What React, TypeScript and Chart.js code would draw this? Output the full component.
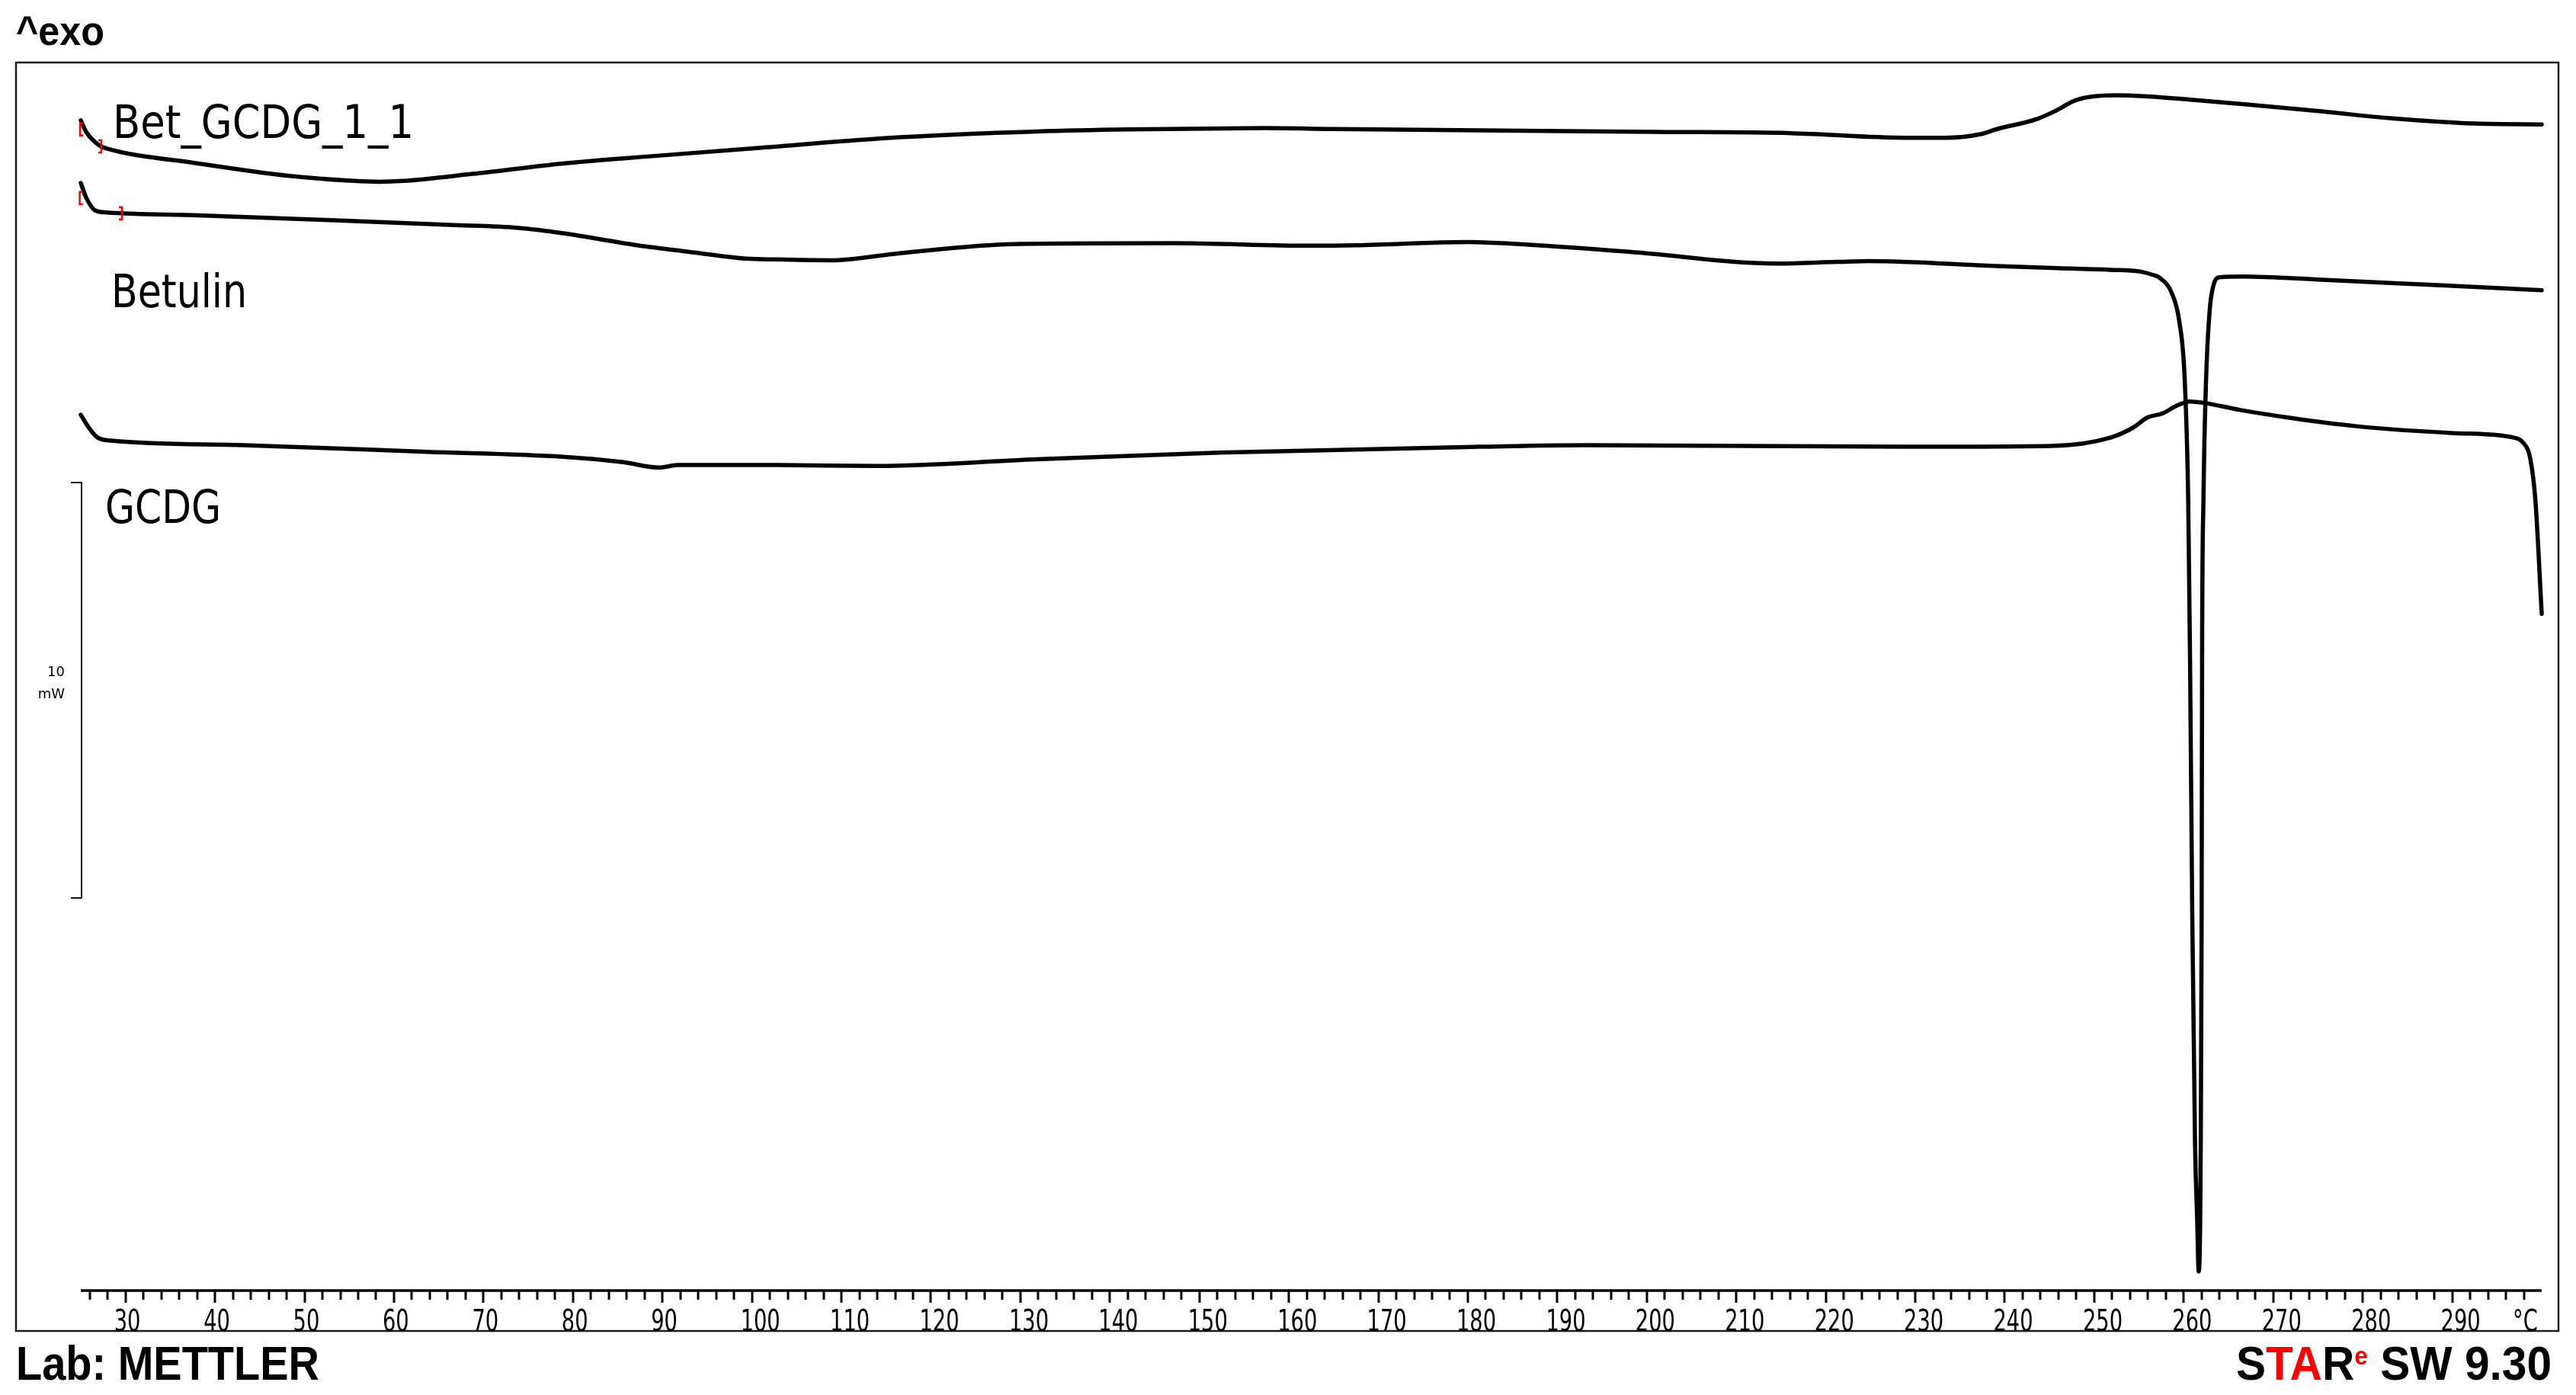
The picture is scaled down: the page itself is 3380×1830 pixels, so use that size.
import React, { useEffect, useRef } from 'react';
import { Chart, registerables } from 'chart.js';

Chart.register(...registerables);

const W = 3380;
const H = 1830;

// ---- data (temperature °C, heat flow in mW, offset curves) ----
const betGcdgT = [25.0, 25.6, 27.1, 27.9, 38.1, 48.3, 55.5, 58.3, 61.1, 68.8, 78.9, 89.1, 101.1, 116.5, 131.8, 142.0, 157.3, 164.9, 179.0, 200.8, 216.1, 228.9, 233.4, 237.4, 239.0, 243.6, 245.7, 248.0, 252.2, 255.6, 261.0, 267.0, 275.6, 283.0, 292.5, 300.0];
const betGcdgV = [28.17, 27.89, 27.56, 27.49, 27.13, 26.83, 26.71, 26.69, 26.71, 26.88, 27.13, 27.31, 27.51, 27.76, 27.90, 27.95, 27.98, 27.96, 27.93, 27.89, 27.86, 27.75, 27.75, 27.84, 27.95, 28.20, 28.40, 28.66, 28.77, 28.75, 28.66, 28.55, 28.38, 28.22, 28.09, 28.07];

const betulinT = [25.0, 25.6, 26.6, 27.9, 38.1, 53.4, 66.2, 73.9, 78.9, 86.6, 94.2, 99.3, 102.8, 108.8, 116.5, 129.2, 147.1, 162.4, 167.5, 180.0, 184.0, 198.2, 214.6, 221.2, 224.8, 239.1, 245.9, 251.8, 255.1, 256.5, 257.3, 258.7, 259.5, 260.1, 260.5, 260.7, 260.95, 261.26, 261.5, 261.67, 261.84, 261.9, 262.0, 262.05, 262.2, 262.5, 262.9, 263.3, 264.0, 266.6, 275.5, 286.5, 300.0];
const betulinV = [26.66, 26.31, 26.00, 25.95, 25.88, 25.76, 25.65, 25.58, 25.45, 25.18, 24.97, 24.84, 24.82, 24.80, 24.97, 25.19, 25.21, 25.15, 25.16, 25.24, 25.21, 25.00, 24.72, 24.76, 24.78, 24.66, 24.61, 24.57, 24.53, 24.45, 24.38, 23.99, 23.33, 21.96, 19.01, 15.28, 9.05, 3.54, 1.71, 0.46, 1.71, 3.54, 9.05, 15.28, 19.01, 21.96, 23.60, 24.18, 24.39, 24.41, 24.33, 24.22, 24.08];

const gcdgT = [25.0, 25.9, 26.9, 28.4, 43.2, 63.7, 78.9, 85.6, 89.6, 91.7, 102.8, 113.9, 131.8, 152.2, 181.2, 193.1, 228.9, 245.2, 251.8, 254.4, 255.9, 257.7, 259.2, 260.7, 262.2, 266.2, 271.8, 279.1, 290.2, 296.9, 298.0, 298.7, 299.3, 300.0];
const gcdgV = [21.08, 20.77, 20.53, 20.46, 20.35, 20.19, 20.07, 19.94, 19.81, 19.87, 19.87, 19.85, 20.01, 20.17, 20.31, 20.35, 20.31, 20.33, 20.53, 20.78, 21.01, 21.12, 21.30, 21.40, 21.37, 21.20, 21.01, 20.81, 20.64, 20.53, 20.39, 20.05, 19.01, 16.29];

// evaluation-range markers ('[' open, ']' close)
const markerT = [24.92, 27.3, 24.88, 29.6];
const markerV = [27.95, 27.54, 26.30, 25.93];
const markerKind = ['[', ']', '[', ']'];

const xLabelValues = [30, 40, 50, 60, 70, 80, 90, 100, 110, 120, 130, 140, 150, 160, 170, 180, 190, 200, 210, 220, 230, 240, 250, 260, 270, 280, 290];
const xMin = 25;
const xMax = 300;
const yMin = 0;
const yMax = 29.56;
const scaleBarLow = 9.45;
const scaleBarSpan = 10; // 10 mW

const curveLabels = ['Bet_GCDG_1_1', 'Betulin', 'GCDG'];

function fitText(ctx: CanvasRenderingContext2D, text: string, x: number, baseline: number, font: string, targetW: number, color: string) {
  ctx.save();
  ctx.font = font;
  const w = ctx.measureText(text).width;
  const s = targetW / w;
  ctx.translate(x, baseline);
  ctx.scale(s, 1);
  ctx.fillStyle = color;
  ctx.textAlign = 'left';
  ctx.textBaseline = 'alphabetic';
  ctx.fillText(text, 0, 0);
  ctx.restore();
}

function scaledText(ctx: CanvasRenderingContext2D, text: string, x: number, baseline: number, font: string, sx: number, color: string) {
  ctx.save();
  ctx.font = font;
  ctx.translate(x, baseline);
  ctx.scale(sx, 1);
  ctx.fillStyle = color;
  ctx.textAlign = 'left';
  ctx.textBaseline = 'alphabetic';
  ctx.fillText(text, 0, 0);
  ctx.restore();
}

const decor = {
  id: 'decor',
  afterDraw(chart: any) {
    const ctx: CanvasRenderingContext2D = chart.ctx;
    const xs = chart.scales.x;
    const ys = chart.scales.y;
    ctx.save();

    // frame
    ctx.strokeStyle = '#1a1a1a';
    ctx.lineWidth = 2.5;
    ctx.strokeRect(21, 82, 3357 - 21, 1746 - 82);

    // x axis line
    const axY = ys.getPixelForValue(yMin);
    ctx.strokeStyle = '#000';
    ctx.lineWidth = 3.5;
    ctx.beginPath();
    ctx.moveTo(xs.getPixelForValue(xMin), axY);
    ctx.lineTo(xs.getPixelForValue(xMax), axY);
    ctx.stroke();

    // ticks every 2 °C, longer every 10 °C
    ctx.lineWidth = 3;
    for (let t = 26; t <= 298; t += 2) {
      const px = Math.round(xs.getPixelForValue(t));
      const len = t % 10 === 0 ? 16 : 12;
      ctx.beginPath();
      ctx.moveTo(px, axY);
      ctx.lineTo(px, axY + len);
      ctx.stroke();
    }

    // tick labels
    const tickFont = '39px "DejaVu Sans"';
    const tsx = 0.7;
    for (const v of xLabelValues) {
      const px = xs.getPixelForValue(v);
      scaledText(ctx, String(v), px - 15, 1746, tickFont, tsx, '#000');
    }
    scaledText(ctx, '°C', 3297, 1746, tickFont, tsx, '#000');

    // scale bar 10 mW
    const sbTop = ys.getPixelForValue(scaleBarLow + scaleBarSpan);
    const sbBot = ys.getPixelForValue(scaleBarLow);
    ctx.strokeStyle = '#111';
    ctx.lineWidth = 2;
    ctx.beginPath();
    ctx.moveTo(93, sbTop);
    ctx.lineTo(107, sbTop);
    ctx.lineTo(107, sbBot);
    ctx.lineTo(93, sbBot);
    ctx.stroke();
    ctx.fillStyle = '#000';
    ctx.font = '18px "DejaVu Sans"';
    ctx.textAlign = 'right';
    ctx.textBaseline = 'alphabetic';
    ctx.fillText('10', 85, 887);
    ctx.fillText('mW', 85, 916);

    // curve labels
    const labFont = '60px "DejaVu Sans"';
    fitText(ctx, curveLabels[0], 148, 181, labFont, 395, '#000');
    fitText(ctx, curveLabels[1], 146, 403, labFont, 178, '#000');
    fitText(ctx, curveLabels[2], 138, 686, labFont, 152, '#000');

    // red range markers
    ctx.strokeStyle = '#ff0000';
    ctx.lineWidth = 2.5;
    for (let i = 0; i < markerT.length; i++) {
      const mx = xs.getPixelForValue(markerT[i]);
      const my = ys.getPixelForValue(markerV[i]);
      const dir = markerKind[i] === '[' ? 1 : -1;
      ctx.beginPath();
      ctx.moveTo(mx + dir * 4, my - 8);
      ctx.lineTo(mx, my - 8);
      ctx.lineTo(mx, my + 8);
      ctx.lineTo(mx + dir * 4, my + 8);
      ctx.stroke();
    }

    // header / footer texts
    fitText(ctx, '^exo', 21, 59, 'bold 53px "Liberation Sans"', 116, '#000');
    fitText(ctx, 'Lab: METTLER', 21, 1810, 'bold 63px "Liberation Sans"', 398, '#000');

    // STARe SW 9.30
    const mainFont = 'bold 63px "Liberation Sans"';
    const supFont = 'bold 34px "Liberation Sans"';
    const parts = [
      { t: 'S', c: '#000', f: mainFont, dy: 0 },
      { t: 'TA', c: '#ff0000', f: mainFont, dy: 0 },
      { t: 'R', c: '#000', f: mainFont, dy: 0 },
      { t: 'e', c: '#ff0000', f: supFont, dy: -20 },
      { t: ' SW 9.30', c: '#000', f: mainFont, dy: 0 },
    ];
    let total = 0;
    const widths: number[] = [];
    for (const p of parts) {
      ctx.font = p.f;
      const w = ctx.measureText(p.t).width;
      widths.push(w);
      total += w;
    }
    const sx = 414 / total;
    let cx = 2934;
    for (let i = 0; i < parts.length; i++) {
      const p = parts[i];
      scaledText(ctx, p.t, cx, 1810 + p.dy, p.f, sx, p.c);
      cx += widths[i] * sx;
    }

    ctx.restore();
  },
};

export default function App() {
  const ref = useRef<HTMLCanvasElement>(null);
  useEffect(() => {
    const canvas = ref.current;
    if (!canvas) return;
    const toPts = (t: number[], v: number[]) => t.map((x, i) => ({ x, y: v[i] }));
    const mk = (label: string, t: number[], v: number[]) => ({
      label,
      data: toPts(t, v),
      borderColor: '#000',
      borderWidth: 5.5,
      borderJoinStyle: 'round' as const,
      borderCapStyle: 'round' as const,
      pointRadius: 0,
      fill: false,
      cubicInterpolationMode: 'monotone' as const,
      clip: false as const,
    });
    const chart = new Chart(canvas, {
      type: 'line',
      data: {
        datasets: [
          mk(curveLabels[0], betGcdgT, betGcdgV),
          mk(curveLabels[1], betulinT, betulinV),
          mk(curveLabels[2], gcdgT, gcdgV),
        ],
      },
      options: {
        animation: false,
        responsive: false,
        maintainAspectRatio: false,
        devicePixelRatio: 1,
        layout: { padding: { left: 106, right: 45, top: 82, bottom: 137 } },
        scales: {
          x: { type: 'linear', min: xMin, max: xMax, display: false },
          y: { type: 'linear', min: yMin, max: yMax, display: false },
        },
        plugins: { legend: { display: false }, tooltip: { enabled: false } },
      },
      plugins: [decor],
    } as any);
    return () => chart.destroy();
  }, []);
  return (
    <div style={{ position: 'fixed', left: 0, top: 0, width: W, height: H, background: '#fff' }}>
      <canvas ref={ref} width={W} height={H} style={{ display: 'block', width: W, height: H }} />
    </div>
  );
}
